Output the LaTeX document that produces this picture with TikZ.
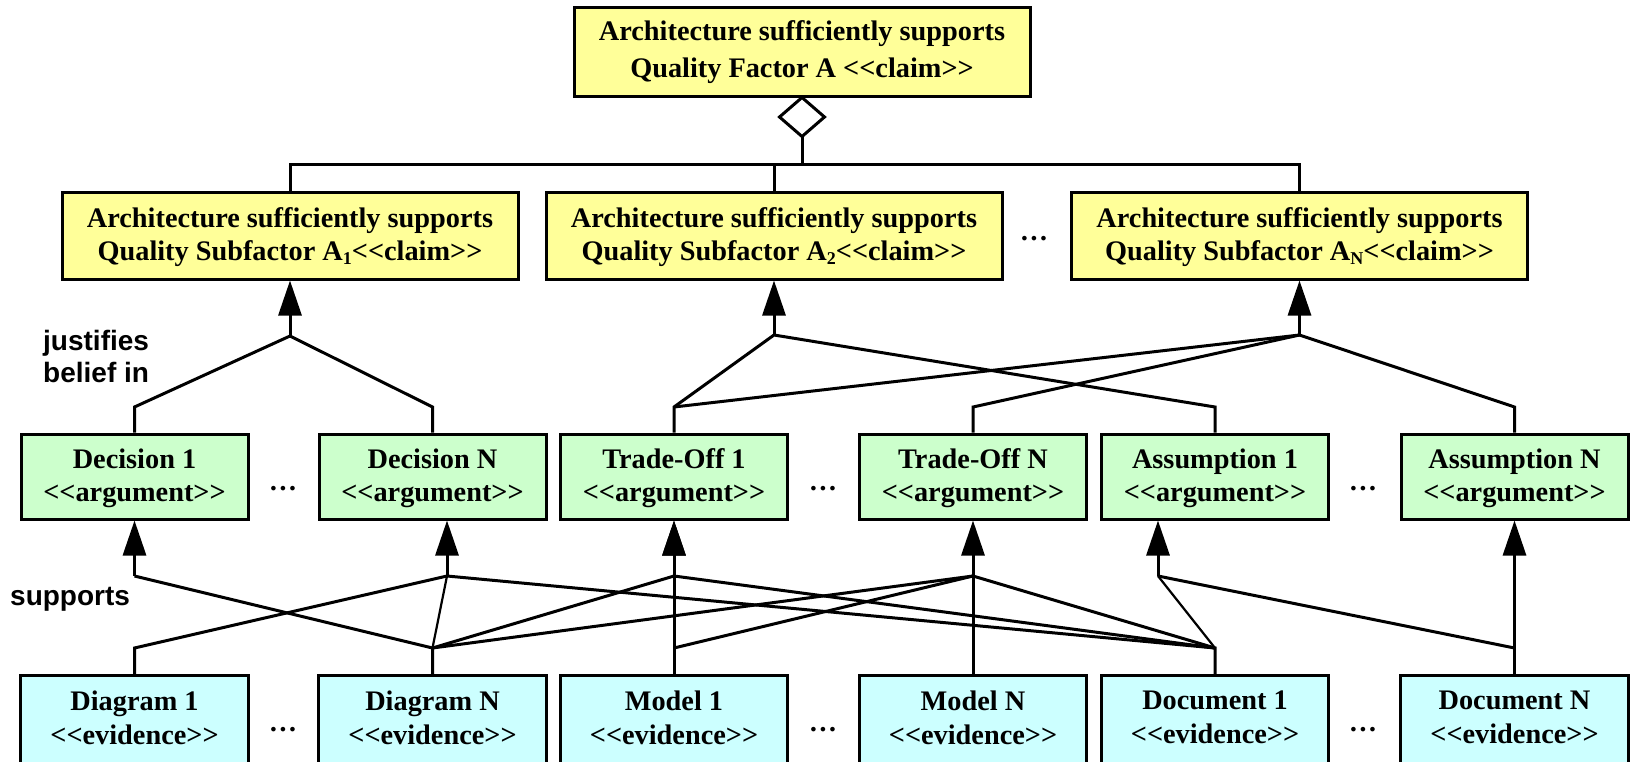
\documentclass[tikz,border=0pt]{standalone}
\usepackage{fontspec}
\setmainfont{Liberation Serif}[Ligatures=TeXOff]
\newfontfamily\boxfont{Liberation Serif}[Ligatures=TeXOff]
\newfontfamily\lblfont{Liberation Sans}[Ligatures=TeXOff]
\usetikzlibrary{arrows.meta}
\definecolor{claimyellow}{HTML}{FFFF99}
\definecolor{arggreen}{HTML}{CCFFCC}
\definecolor{evcyan}{HTML}{CCFFFF}
\pgfdeclarelayer{background}
\pgfsetlayers{background,main}
\newcommand{\subsc}[1]{\raisebox{-4pt}{\fontsize{18pt}{18pt}\selectfont #1}}
\newcommand{\tallstrut}[1]{\rule{0pt}{#1}}
\begin{document}
\begin{tikzpicture}[x=1pt,y=-1pt,
  conn/.style={line width=3pt, line join=miter},
  thinconn/.style={line width=2.2pt, line join=miter},
  arr/.style={conn, -{Triangle[length=35pt,width=23pt]}},
  box/.style={draw, line width=3pt, inner sep=0pt, align=center,
    font=\boxfont\bfseries\fontsize{28.3pt}{33.5pt}\selectfont},
  claimbox/.style={box, fill=claimyellow, minimum width=456pt, minimum height=87pt},
  argbox/.style={box, fill=arggreen, minimum width=227pt, minimum height=85pt,
    font=\boxfont\bfseries\fontsize{28.3pt}{33pt}\selectfont},
  evbox/.style={inner sep=0pt, align=center, minimum width=227pt, minimum height=83pt,
    font=\boxfont\bfseries\fontsize{28.3pt}{34pt}\selectfont},
  dotsnode/.style={anchor=base, inner sep=0pt,
    font=\boxfont\bfseries\fontsize{28.3pt}{32pt}\selectfont},
  lbl/.style={inner sep=0pt, align=left,
    font=\lblfont\bfseries\fontsize{28pt}{32pt}\selectfont}
]
\useasboundingbox (0,0) rectangle (1634,761);

% claims
\node[claimbox, minimum height=89pt,
  font=\boxfont\bfseries\fontsize{28.3pt}{37pt}\selectfont] (top) at (802,51.5)
  {\tallstrut{22pt}Architecture sufficiently supports\\Quality Factor A <<claim>>};
\node[claimbox] (s1) at (290,235.5)
  {\tallstrut{23.5pt}Architecture sufficiently supports\\Quality Subfactor A\subsc{1}<<claim>>};
\node[claimbox] (s2) at (774,235.5)
  {\tallstrut{23.5pt}Architecture sufficiently supports\\Quality Subfactor A\subsc{2}<<claim>>};
\node[claimbox] (sN) at (1299.5,235.5)
  {\tallstrut{23.5pt}Architecture sufficiently supports\\Quality Subfactor A\subsc{N}<<claim>>};
\node[dotsnode] (sdots) at (1034,240) {…};

% arguments
\node[argbox] (d1) at (134.5,476.5) {\tallstrut{23pt}Decision 1\\<<argument>>};
\node[argbox] (dN) at (432.5,476.5) {\tallstrut{23pt}Decision N\\<<argument>>};
\node[argbox] (t1) at (674,476.5) {\tallstrut{23pt}Trade-Off 1\\<<argument>>};
\node[argbox] (tN) at (973,476.5) {\tallstrut{23pt}Trade-Off N\\<<argument>>};
\node[argbox] (a1) at (1215,476.5) {\tallstrut{23pt}Assumption 1\\<<argument>>};
\node[argbox] (aN) at (1514.5,476.5) {\tallstrut{23pt}Assumption N\\<<argument>>};
\node[dotsnode] (adots1) at (283,490) {…};
\node[dotsnode] (adots2) at (823,490) {…};
\node[dotsnode] (adots3) at (1363,490) {…};

% evidence
\node[evbox] (e1) at (134.5,717.5) {Diagram 1\\<<evidence>>};
\node[evbox] (e2) at (432.5,717.5) {Diagram N\\<<evidence>>};
\node[evbox] (m1) at (674,717.5) {Model 1\\<<evidence>>};
\node[evbox] (mN) at (973,717.5) {Model N\\<<evidence>>};
\node[evbox] (o1) at (1215,717.5) {Document 1\\<<evidence>>};
\node[evbox] (oN) at (1514.5,717.5) {Document N\\<<evidence>>};
\node[dotsnode] (edots1) at (283,731) {…};
\node[dotsnode] (edots2) at (823,731) {…};
\node[dotsnode] (edots3) at (1363,731) {…};

% labels
\node[lbl, anchor=west] (ljust) at (43,356) {justifies\\belief in};
\node[lbl, anchor=base west] (lsupp) at (10,605) {supports};

% aggregation diamond
\draw[line width=3pt, fill=white, line join=miter] (top.south) -- ++(22.5,19.5)
  -- ++(-22.5,19.5) coordinate (dbot) -- ++(-22.5,-19.5) -- cycle;

% junction coordinates
\coordinate (bar) at (802,164);
\coordinate (j1) at (290,336);
\coordinate (j2) at (774,335);
\coordinate (jN) at (1299.5,335);
\coordinate (kd1) at (134.5,407);
\coordinate (kdN) at (432.5,407);
\coordinate (kt1) at (674,407);
\coordinate (ktN) at (973,407);
\coordinate (ka1) at (1215,407);
\coordinate (kaN) at (1514.5,407);
\coordinate (Jd1) at (134.5,576);
\coordinate (JdN) at (447,576);
\coordinate (Jt1) at (674,576);
\coordinate (JtN) at (973,576);
\coordinate (Ja1) at (1158,576);
\coordinate (Ke1) at (134.5,648);
\coordinate (Ke2) at (432.5,648);
\coordinate (Km1) at (674,648);
\coordinate (Ko1) at (1215,648);
\coordinate (KoN) at (1514.5,648);

\begin{pgfonlayer}{background}
  % evidence boxes (cut by the bottom edge)
  \foreach \n in {e1,e2,m1,mN,o1,oN}{
    \fill[evcyan] (\n.north west) rectangle ([yshift=-14pt]\n.south east);
    \draw[line width=3pt, line join=miter] ([yshift=-14pt]\n.south west) -- (\n.north west)
      -- (\n.north east) -- ([yshift=-14pt]\n.south east);
  }
  % top structure
  \draw[conn] (dbot) -- (bar);
  \draw[conn] (s1.north) |- (bar) -| (sN.north);
  \draw[conn] (s2.north) -- (s2.north |- bar);
  % arguments justify claims
  \draw[conn] (d1.north) -- (kd1) -- (j1) -- (kdN) -- (dN.north);
  \draw[arr] (j1) -- (s1.south);
  \draw[conn] (t1.north) -- (kt1) -- (j2) -- (ka1) -- (a1.north);
  \draw[arr] (j2) -- (s2.south);
  \draw[conn] (kt1) -- (jN) -- (kaN) -- (aN.north);
  \draw[conn] (tN.north) -- (ktN) -- (jN);
  \draw[arr] (jN) -- (sN.south);
  % evidence supports arguments
  \draw[arr] (Jd1) -- (d1.south);
  \draw[arr] (JdN) -- (JdN |- dN.south);
  \draw[arr] (Jt1) -- (t1.south);
  \draw[arr] (m1.north) -- (t1.south);
  \draw[arr] (mN.north) -- (tN.south);
  \draw[arr] (Ja1) -- (Ja1 |- a1.south);
  \draw[arr] (oN.north) -- (aN.south);
  \draw[conn] (e1.north) -- (Ke1) -- (JdN) -- (Ko1) -- (o1.north);
  \draw[conn] (e2.north) -- (Ke2) -- (Jd1);
  \draw[thinconn] (Ke2) -- (JdN);
  \draw[conn] (Ke2) -- (Jt1) -- (Ko1);
  \draw[conn] (Ke2) -- (JtN) -- (Ko1);
  \draw[conn] (Km1) -- (JtN);
  \draw[thinconn] (Ko1) -- (Ja1);
  \draw[conn] (Ja1) -- (KoN);
\end{pgfonlayer}
\end{tikzpicture}
\end{document}
